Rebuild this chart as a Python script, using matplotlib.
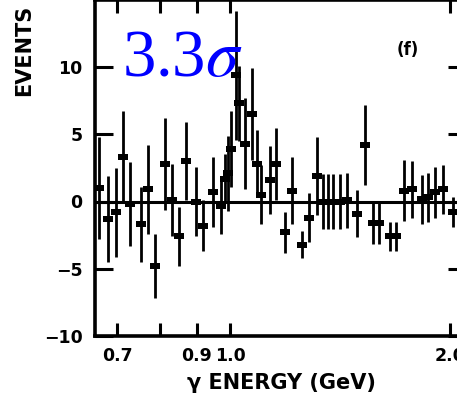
import numpy as np
import matplotlib
matplotlib.use("Agg")
import matplotlib.pyplot as plt
from matplotlib.path import Path

# ---- data (photon energy in GeV, events, error) ----
energy = [0.661, 0.680, 0.697, 0.713, 0.729, 0.755, 0.772, 0.789, 0.814, 0.832,
          0.851, 0.870, 0.898, 0.918, 0.947, 0.971, 0.984, 0.993, 1.003, 1.019,
          1.028, 1.048, 1.071, 1.088, 1.102, 1.134, 1.156, 1.189, 1.215, 1.254,
          1.282, 1.315, 1.340, 1.362, 1.383, 1.414, 1.446, 1.492, 1.530, 1.569,
          1.599, 1.656, 1.687, 1.731, 1.775, 1.832, 1.867, 1.909, 1.957, 2.020]
events = [1.0, -1.3, -0.8, 3.3, -0.2, -1.7, 0.9, -4.8, 2.8, 0.1,
          -2.6, 3.0, 0.0, -1.8, 0.7, -0.3, 1.7, 2.1, 3.9, 9.4,
          7.3, 4.3, 6.5, 2.8, 0.5, 1.6, 2.8, -2.3, 0.8, -3.2,
          -1.2, 1.9, 0.0, 0.0, 0.0, 0.0, 0.1, -0.9, 4.2, -1.6,
          -1.6, -2.6, -2.6, 0.8, 0.9, 0.15, 0.3, 0.7, 0.9, -0.8]
errors = [3.8, 3.2, 3.3, 3.4, 3.1, 2.8, 3.3, 2.4, 3.4, 2.7,
          2.2, 2.9, 2.6, 1.9, 2.6, 2.1, 1.8, 2.8, 2.8, 4.8,
          2.8, 3.4, 3.4, 2.5, 2.2, 2.5, 2.7, 1.5, 2.5, 1.0,
          1.8, 2.9, 2.05, 2.05, 2.05, 2.05, 2.05, 1.75, 3.0, 1.55,
          1.55, 1.05, 1.05, 2.25, 2.1, 1.8, 1.8, 1.9, 1.8, 1.1]

xticks = [0.7, 0.8, 0.9, 1.0, 2.0]
xticklabels = ["0.7", "", "0.9", "1.0", "2.0"]
yticks = [-10, -5, 0, 5, 10]
yticklabels = ["\u221210", "\u22125", "0", "5", "10"]

W, H = 457, 403
fig = plt.figure(figsize=(W / 100, H / 100), dpi=100)
fig.patch.set_facecolor("white")

# axes geometry in pixels (extends beyond the cropped figure at top/right)
left_px, right_px = 95, 466
bottom_px, top_px = 336, 336 - 25 * 13.45
ax = fig.add_axes([left_px / W, 1 - bottom_px / H,
                   (right_px - left_px) / W, (bottom_px - top_px) / H])
ax.set_xscale("log")
ax.set_xlim(0.6526, 2.105)
ax.set_ylim(-10, 15)

rect = Path([(-0.7, -0.5), (0.7, -0.5), (0.7, 0.5), (-0.7, 0.5), (-0.7, -0.5)],
            [Path.MOVETO, Path.LINETO, Path.LINETO, Path.LINETO, Path.CLOSEPOLY])

ax.axhline(0, color="black", lw=2.2, zorder=1)
ax.errorbar(energy, events, yerr=errors, fmt="none", ecolor="black",
            elinewidth=2.0, capsize=0, zorder=2)
ax.plot(energy, events, linestyle="none", marker=rect, ms=6.5,
        color="black", mew=0, zorder=3)

for s in ["left", "bottom", "right", "top"]:
    ax.spines[s].set_linewidth(2.6)
    ax.spines[s].set_color("black")

ax.xaxis.set_minor_locator(matplotlib.ticker.NullLocator())
ax.xaxis.set_minor_formatter(matplotlib.ticker.NullFormatter())
ax.set_xticks(xticks)
ax.set_xticklabels(xticklabels)
ax.set_yticks(yticks)
ax.set_yticklabels(yticklabels)
ax.tick_params(axis="y", direction="in", length=13, width=2.2, pad=9,
               right=True, labelsize=12.5)
ax.tick_params(axis="x", direction="in", length=9.5, width=2.2, pad=8,
               top=True, labelsize=12.5)
for lab in ax.get_xticklabels() + ax.get_yticklabels():
    lab.set_fontweight("bold")
    lab.set_fontfamily("DejaVu Sans")

fig.text(281 / W, 1 - 383 / H, "\u03b3 ENERGY (GeV)", ha="center", va="center",
         fontsize=15, fontweight="bold", family="DejaVu Sans")
fig.text(24 / W, 1 - 50 / H, "EVENTS", ha="center", va="center", rotation=90,
         fontsize=15, fontweight="bold", family="DejaVu Sans")
fig.text(408 / W, 1 - 50 / H, "(f)", ha="center", va="center",
         fontsize=12, fontweight="bold", family="DejaVu Sans")
fig.text(122 / W, 1 - 76 / H, r"3.3$\sigma$", ha="left", va="baseline",
         fontsize=48, color="#0000ff", family="Liberation Serif",
         math_fontfamily="stix")

fig.savefig("out.png", dpi=100, facecolor="white")
